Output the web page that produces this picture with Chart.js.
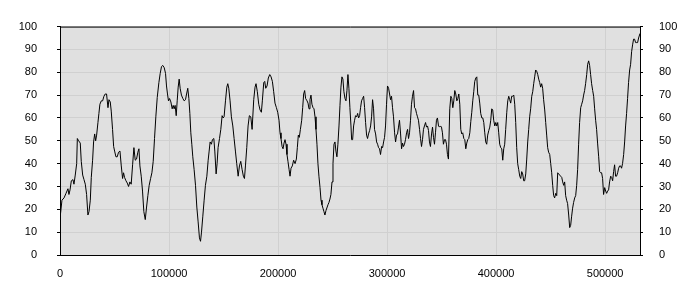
<!DOCTYPE html>
<html>
<head>
<meta charset="utf-8">
<script src="https://cdn.jsdelivr.net/npm/chart.js@4/dist/chart.umd.min.js"></script>
<style>
  html, body { margin: 0; padding: 0; background: #fff; }
  canvas { display: block; }
</style>
</head>
<body>
<canvas id="chart" width="700" height="300"></canvas>
<script>
// Series, split into six stretches.
// X positions are in thousands, values are 0–100.
const part1X = [0, 1.8, 3.7, 5.5, 7.3, 8.2, 9.2, 10.4, 11.9, 12.8, 14.0, 15.3, 15.9, 17.1, 18.6, 19.5, 20.8, 22.0, 23.2, 24.4, 25.6, 26.6, 27.8, 28.7, 29.9, 30.8, 31.8, 32.7, 33.6, 34.8, 35.7, 36.6, 37.9, 39.1, 40.3, 41.5, 42.7, 44.0, 44.9, 46.1, 47.0, 48.2, 49.2, 50.1, 51.3, 52.5, 53.7, 55.0, 56.2, 57.4, 58.3, 59.2, 60.5, 61.7, 62.9, 64.1, 65.3, 66.6, 67.8, 69.0, 70.2, 71.4, 72.4, 73.3, 74.5, 75.7, 76.9, 78.2, 79.4, 80.6, 81.8, 83.1, 84.3, 85.5, 86.7, 87.9, 89.2];
const part1Y = [16, 24, 25, 27, 29, 26.5, 28.5, 32.5, 33, 31, 35, 40, 51, 50, 49, 41, 35, 33, 31, 26.5, 17.5, 19, 24, 34, 41.5, 49.5, 53, 50, 52.5, 58, 62, 66, 67.5, 67.5, 69.5, 70.5, 70.5, 64.5, 68, 67, 63, 55, 47.5, 45.5, 43, 43, 45, 45.5, 39, 33.5, 36, 34, 32.5, 31.5, 30, 32, 31, 39.5, 47, 41.5, 42, 45, 46.5, 39, 34.5, 28, 19, 15.5, 21, 26, 30.5, 33.5, 36, 41, 51, 60.5, 69];

const part2X = [90.7, 91.9, 93.1, 94.3, 95.6, 96.8, 97.7, 98.6, 99.5, 100.5, 101.7, 102.9, 103.8, 104.7, 105.6, 106.6, 107.5, 108.4, 109.3, 110.2, 111.4, 112.7, 113.9, 115.1, 116.1, 117.2, 118.2, 119.1, 120.0, 120.9, 121.8, 123.0, 124.3, 125.5, 126.7, 127.9, 128.9, 129.8, 131.0, 132.2, 133.4, 134.7, 135.9, 136.8, 137.7, 138.9, 139.8, 141.1, 142.0, 143.2, 144.1, 145.0, 146.3, 147.5, 148.7, 149.6, 150.5, 151.8, 153.0, 153.9, 154.8, 156.0, 157.2, 158.5, 159.7, 160.9, 162.1, 163.4, 164.6, 165.8, 167.0, 168.2, 169.2, 170.1, 171.3, 172.5, 173.7, 175.0, 176.2];
const part2Y = [75.5, 79.5, 82.5, 83, 82, 79.5, 74, 70.5, 67.5, 68.5, 67, 64, 65.5, 64, 65.5, 61, 67.5, 73.5, 77, 73, 70, 68.5, 67.5, 68, 70.5, 73, 68.5, 62, 53.5, 48.5, 43, 37.5, 30.5, 21, 14.5, 7.5, 6, 10, 17, 24, 30.5, 34.5, 41.5, 45.5, 49.5, 48.5, 50.5, 51, 45.5, 35.5, 40, 47, 51, 55, 61, 60, 60.5, 67.5, 73.5, 75, 73, 67.5, 60.5, 56.5, 51, 45.5, 40, 34.5, 39, 41, 37.5, 34.5, 33.5, 39, 47, 56.5, 61, 60.5, 55];

const part3X = [177.7, 178.9, 179.8, 181.0, 182.3, 183.5, 184.7, 185.6, 186.9, 187.8, 188.7, 189.9, 191.1, 192.4, 193.6, 194.8, 196.0, 197.2, 198.5, 199.7, 200.9, 201.8, 202.7, 203.7, 204.6, 205.5, 206.4, 207.3, 208.2, 209.1, 210.1, 211.0, 211.9, 213.1, 214.3, 215.6, 216.8, 217.7, 218.6, 219.5, 220.5, 221.7, 222.6, 223.5, 224.4, 225.3, 226.6, 227.5, 228.4, 229.3, 230.2, 231.1, 232.1, 233.0, 233.9, 234.8, 235.7, 236.6, 237.5, 238.5, 239.4, 240.3, 241.2, 242.1, 243.0, 244.0, 244.9, 245.8, 246.7, 247.6, 248.5, 249.5, 250.4, 251.3, 252.2, 253.1, 254.0, 254.9, 255.9, 256.8, 257.7, 258.6, 259.5, 260.4, 261.4, 262.3, 263.2, 264.1, 265.0, 265.9, 266.9];
const part3Y = [68, 73.5, 75, 71.5, 66, 63.5, 62.5, 67.5, 75.5, 76, 73, 74, 77.5, 79, 78, 76, 71.5, 66.5, 64.5, 62.5, 59, 53.5, 51, 47.5, 46.5, 49, 50.5, 48.5, 44, 41, 37.5, 34.5, 38, 39, 41.5, 40, 42, 47, 52.5, 51.5, 55, 59, 64.5, 70.5, 72, 68.5, 67.5, 66.5, 64, 68, 70, 66, 64.5, 64, 60.5, 55, 48.5, 40, 34.5, 29.5, 24, 22, 20.5, 19, 17.5, 19.5, 19.5, 22, 23, 24.5, 26.5, 32, 40, 48.5, 49.5, 45.5, 43, 48.5, 56.5, 65.5, 73.5, 78, 77, 71.5, 68.5, 67.5, 72, 79, 73, 64.5, 56.5];

const part4X = [267.5, 268.4, 269.3, 270.2, 271.1, 272.1, 273.0, 273.9, 274.8, 275.7, 276.6, 277.5, 278.5, 279.4, 280.3, 281.2, 282.1, 283.0, 284.0, 284.9, 285.8, 286.7, 287.6, 288.5, 289.5, 290.4, 291.3, 292.2, 293.1, 294.0, 295.0, 295.9, 296.8, 297.7, 298.6, 299.5, 300.4, 301.4, 302.3, 303.2, 304.1, 305.0, 305.9, 306.9, 307.8, 308.7, 309.6, 310.5, 311.4, 312.4, 313.3, 314.2, 315.1, 316.0, 316.9, 317.9, 318.8, 319.7, 320.6, 321.5, 322.4, 323.3, 324.3, 325.2, 326.1, 327.0, 327.9, 328.8, 329.8, 330.7, 331.6, 332.5, 333.4, 334.3, 335.3, 336.2, 337.1, 338.0, 338.9, 339.8, 340.8, 341.7, 342.6, 343.5, 344.4, 345.3, 346.2, 347.2, 348.1, 349.0, 349.9, 350.8, 351.7, 352.7, 353.6, 354.5, 355.4, 356.3];
const part4Y = [50.5, 50.5, 56.5, 59, 61, 60.5, 62, 60, 61, 64.5, 67.5, 68.5, 69.5, 64.5, 58, 52.5, 51, 53, 54.5, 56.5, 60.5, 68, 64, 55, 53, 49.5, 48.5, 47, 46.5, 44, 47.5, 47, 49.5, 51.5, 56.5, 66, 74, 73, 70.5, 68, 69.5, 64.5, 60.5, 53.5, 49.5, 52.5, 53, 56, 59, 53, 46.5, 49, 47.5, 48.5, 50.5, 53.5, 55, 51, 53.5, 59, 66, 69.5, 72, 64.5, 64, 62, 60.5, 59, 55, 51, 47.5, 50.5, 55, 56.5, 58, 56, 56.5, 54.5, 49.5, 47.5, 53, 56, 51.5, 48.5, 53.5, 59, 60, 56.5, 56, 56.5, 56, 53.5, 48.5, 50.5, 50.5, 48.5, 44, 42];

const part5X = [357.5, 358.5, 359.4, 360.3, 361.2, 362.1, 363.0, 364.0, 364.9, 365.8, 366.7, 367.6, 368.5, 369.4, 370.4, 371.3, 372.2, 373.1, 374.0, 374.9, 375.9, 376.8, 377.7, 378.6, 379.5, 380.4, 381.4, 382.3, 383.2, 384.1, 385.0, 385.9, 386.9, 387.8, 388.7, 389.6, 390.5, 391.4, 392.3, 393.3, 394.2, 395.1, 396.0, 396.9, 397.8, 398.8, 399.7, 400.6, 401.5, 402.4, 403.3, 404.3, 405.2, 406.1, 407.0, 407.9, 408.8, 409.8, 410.7, 411.6, 412.5, 413.4, 414.3, 415.2, 416.2, 417.1, 418.0, 418.9, 419.8, 420.7, 421.7, 422.6, 423.5, 424.4, 425.3, 426.2, 427.2, 428.1, 429.0, 429.9, 430.8, 431.7, 432.7, 433.6, 434.5, 435.4, 436.3, 437.2, 438.2, 439.1, 440.0, 440.9, 441.8, 442.7, 443.6, 444.6];
const part5Y = [64, 69.5, 68.5, 64.5, 67.5, 72, 70.5, 67.5, 68.5, 70.5, 66, 55, 53, 53.5, 51, 50.5, 46.5, 49, 50.5, 51, 53.5, 58.5, 62.5, 67.5, 71.5, 76, 77.5, 78, 70, 70, 66.5, 62, 60, 60, 58, 53.5, 49.5, 48.5, 52.5, 54.5, 56, 59, 64, 63.5, 59, 56.5, 58, 56.5, 58, 53.5, 48.5, 47, 46.5, 41.5, 46.5, 48.5, 55, 62.5, 67.5, 69.5, 68, 66.5, 69.5, 69.5, 70, 66, 58, 47, 40, 37.5, 34.5, 33.5, 36.5, 35.5, 32.5, 32.5, 35.5, 42, 49.5, 55, 60.5, 64, 69.5, 71.5, 75, 78, 81, 80.5, 79, 77, 75.5, 73.5, 75, 73, 68, 63.5];

const part6X = [445.5, 446.4, 447.3, 448.2, 449.2, 450.1, 451.0, 451.9, 452.8, 453.7, 454.7, 455.6, 456.5, 457.4, 458.3, 459.2, 460.2, 461.1, 462.0, 462.9, 463.8, 464.7, 465.6, 466.6, 467.5, 468.4, 469.3, 470.2, 471.1, 472.1, 473.0, 473.9, 474.8, 475.7, 476.6, 477.6, 478.5, 479.4, 480.3, 481.2, 482.1, 483.1, 484.0, 484.9, 485.8, 486.7, 487.6, 488.6, 489.5, 490.4, 491.3, 492.2, 493.1, 494.1, 495.0, 495.9, 496.8, 497.7, 498.6, 499.6, 500.5, 501.4, 502.3, 503.2, 504.1, 505.1, 506.0, 506.9, 507.8, 508.7, 509.6, 510.5, 511.5, 512.4, 513.3, 514.2, 515.1, 516.0, 517.0, 517.9, 518.8, 519.7, 520.6, 521.5, 522.5, 523.4, 524.3, 525.2, 526.1, 527.0, 528.0, 528.9, 529.8, 530.7, 532.0];
const part6Y = [58, 52.5, 47, 45, 44, 40, 36, 30.5, 26, 25, 27, 26, 36, 35.5, 35, 34.5, 34, 32, 30.5, 32, 26, 24, 22.5, 17.5, 12, 13, 17, 20.5, 23, 25, 26, 30.5, 37.5, 48.5, 58, 64.5, 66, 67.5, 70, 72, 75, 79, 83.5, 85, 83, 79, 75, 72, 69.5, 64, 59, 55, 49, 43, 36.5, 36, 36, 33.5, 26.5, 29.5, 28, 27, 28, 28.5, 32, 34.5, 34, 32.5, 36.5, 39.5, 34.5, 34.5, 36, 38, 39, 39, 38, 40, 44, 49.5, 56.5, 62, 68.5, 75.5, 81, 83.5, 89, 92, 94.5, 94.5, 93, 93, 93, 95, 97];

// Axis ranges and tick labels.
const xMax = 532000;
const xTicks = [0, 100000, 200000, 300000, 400000, 500000];
const yMax = 100;
const yStep = 10;

const parts = [
  [part1X, part1Y], [part2X, part2Y], [part3X, part3Y],
  [part4X, part4Y], [part5X, part5Y], [part6X, part6Y],
];
const points = parts.flatMap(([xs, ys]) => xs.map((x, i) => ({ x: x * 1000, y: ys[i] })));

const FONT = { family: '"Liberation Sans", Arial, sans-serif', size: 11 };
const GRID = '#d0d0d0';

// Grey plot background and the top edge of the frame (the other three
// edges come from the axis borders).
const plotFrame = {
  id: 'plotFrame',
  beforeDraw(chart) {
    const { ctx, chartArea: a } = chart;
    ctx.save();
    ctx.fillStyle = '#e0e0e0';
    ctx.fillRect(a.left, a.top, a.right - a.left, a.bottom - a.top);
    ctx.restore();
  },
  afterDraw(chart) {
    const { ctx, chartArea: a } = chart;
    ctx.save();
    ctx.strokeStyle = '#000';
    ctx.lineWidth = 1;
    ctx.beginPath();
    ctx.moveTo(a.left, a.top + 0.5);
    ctx.lineTo(a.right + 1, a.top + 0.5);
    ctx.stroke();
    ctx.restore();
  },
};

new Chart(document.getElementById('chart'), {
  type: 'line',
  data: {
    datasets: [{
      data: points,
      borderColor: '#000',
      borderWidth: 1,
      pointRadius: 0,
      tension: 0,
      fill: false,
    }],
  },
  options: {
    responsive: false,
    devicePixelRatio: 1,
    animation: false,
    events: [],
    layout: { padding: { top: 10, left: 0, right: 0, bottom: 0 } },
    plugins: { legend: { display: false }, tooltip: { enabled: false } },
    scales: {
      x: {
        type: 'linear',
        min: 0, max: xMax,
        // the library would spread ticks evenly to the max; use the round ones
        afterBuildTicks: (s) => { s.ticks = xTicks.map((v) => ({ value: v })); },
        afterFit: (s) => { s.height = 45; },
        border: { display: true, color: '#000', width: 1 },
        grid: { color: GRID, drawTicks: false },
        ticks: {
          autoSkip: false, maxRotation: 0,
          padding: 12, color: '#000', font: FONT,
          callback: (v) => String(v),
        },
      },
      y: {
        position: 'left',
        min: 0, max: yMax,
        afterFit: (s) => { s.width = 60; },
        border: { display: true, color: '#000', width: 1 },
        grid: { color: GRID, tickColor: '#000', tickLength: 3 },
        ticks: { stepSize: yStep, padding: 20, color: '#000', font: FONT },
      },
      y2: {
        position: 'right',
        min: 0, max: yMax,
        afterFit: (s) => { s.width = 60; },
        border: { display: true, color: '#000', width: 1 },
        grid: { drawOnChartArea: false, tickColor: '#000', tickLength: 3 },
        ticks: { stepSize: yStep, padding: 16, color: '#000', font: FONT },
      },
    },
  },
  plugins: [plotFrame],
});
</script>
</body>
</html>
